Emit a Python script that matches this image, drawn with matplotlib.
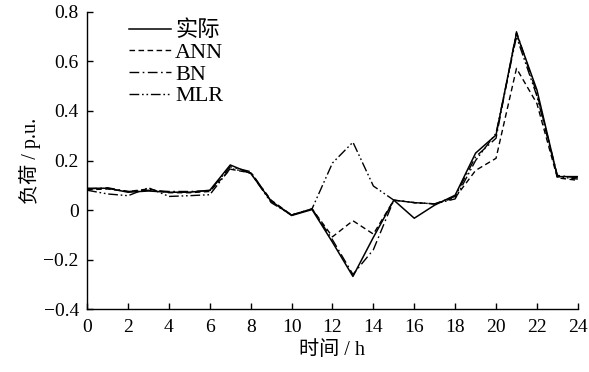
import numpy as np
import matplotlib
matplotlib.use("Agg")
import matplotlib.pyplot as plt
from matplotlib.ticker import FuncFormatter

plt.rcParams['font.family'] = ['Liberation Serif', 'Noto Sans CJK SC']
plt.rcParams['axes.unicode_minus'] = True

hours = np.arange(25)
actual = [0.088, 0.088, 0.072, 0.077, 0.072, 0.072, 0.080, 0.182, 0.148, 0.036, -0.022, 0.002,
          -0.13, -0.268, -0.11, 0.040, -0.033, 0.020, 0.060, 0.230, 0.303, 0.714, 0.485, 0.135, 0.135]
ann = [0.082, 0.085, 0.075, 0.085, 0.070, 0.070, 0.075, 0.165, 0.150, 0.040, -0.020, 0.005,
       -0.108, -0.043, -0.097, 0.040, 0.030, 0.025, 0.050, 0.160, 0.209, 0.572, 0.430, 0.130, 0.120]
bn = [0.085, 0.090, 0.075, 0.080, 0.075, 0.075, 0.078, 0.175, 0.155, 0.035, -0.020, 0.005,
      -0.12, -0.26, -0.16, 0.040, 0.030, 0.025, 0.055, 0.215, 0.290, 0.720, 0.470, 0.140, 0.130]
mlr = [0.080, 0.065, 0.058, 0.090, 0.055, 0.058, 0.062, 0.168, 0.150, 0.030, -0.020, 0.005,
       0.190, 0.274, 0.097, 0.040, 0.030, 0.025, 0.045, 0.200, 0.310, 0.700, 0.460, 0.135, 0.125]

fig = plt.figure(figsize=(5.89, 3.72), dpi=100)
ax = fig.add_axes([0.148, 0.169, 0.833, 0.799])

ax.plot(hours, actual, color="black", lw=1.1, label="实际")
ax.plot(hours, ann, color="black", lw=1.0, dashes=(4, 2.5), label="ANN")
ax.plot(hours, bn, color="black", lw=1.0, dashes=(7, 2.5, 1.2, 2.5), label="BN")
ax.plot(hours, mlr, color="black", lw=1.0, dashes=(7, 2, 1.2, 2, 1.2, 2), label="MLR")

ax.set_xlim(0, 24)
ax.set_ylim(-0.4, 0.8)
ax.set_xticks(range(0, 25, 2))
ax.set_yticks(np.arange(-0.4, 0.81, 0.2))
ax.yaxis.set_major_formatter(FuncFormatter(lambda v, p: "0" if abs(v) < 1e-9 else f"{v:.1f}".replace("-", "\u2212")))
ax.tick_params(direction="in", length=4, width=1, labelsize=14)
ax.tick_params(axis="x", pad=7)
ax.tick_params(axis="y", pad=6)
for s in ["top", "right"]:
    ax.spines[s].set_visible(False)
for s in ["left", "bottom"]:
    ax.spines[s].set_linewidth(1.0)

ax.set_xlabel("时间 / h", fontsize=14.5, labelpad=4)
ax.set_ylabel("负荷 / p.u.", fontsize=14.5, labelpad=2)

ax.legend(loc="upper left", bbox_to_anchor=(0.068, 1.0), frameon=False, fontsize=16,
          handlelength=1.85, handletextpad=0.2, labelspacing=0.05, borderaxespad=0)

fig.savefig("out.png", dpi=100)
